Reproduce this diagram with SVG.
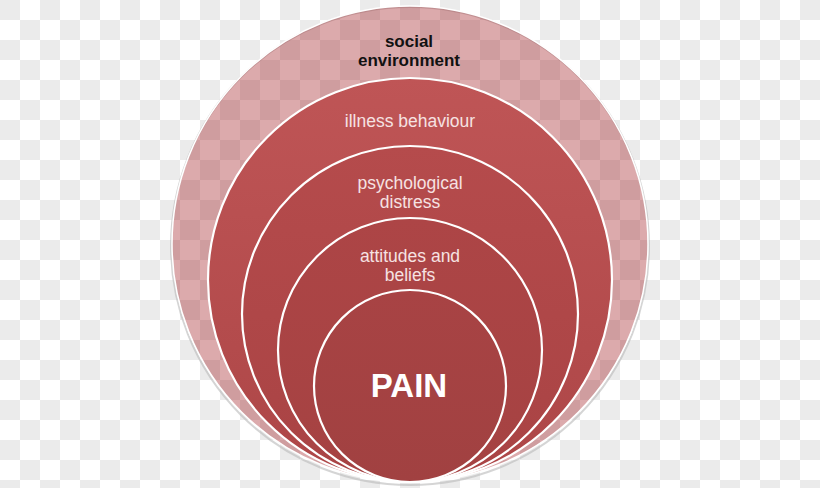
<svg xmlns="http://www.w3.org/2000/svg" width="820" height="488" viewBox="0 0 820 488">
  <defs>
    <pattern id="checker" x="0" y="0" width="40" height="40" patternUnits="userSpaceOnUse">
      <rect width="40" height="40" fill="#ffffff"/>
      <rect x="0" y="0" width="20" height="20" fill="#ebebeb"/>
      <rect x="20" y="20" width="20" height="20" fill="#ebebeb"/>
    </pattern>
    <linearGradient id="g2" x1="0" y1="0" x2="0" y2="1">
      <stop offset="0" stop-color="#bf5556"/>
      <stop offset="1" stop-color="#ad4647"/>
    </linearGradient>
    <linearGradient id="g3" x1="0" y1="0" x2="0" y2="1">
      <stop offset="0" stop-color="#b54b4c"/>
      <stop offset="1" stop-color="#a94344"/>
    </linearGradient>
    <linearGradient id="g4" x1="0" y1="0" x2="0" y2="1">
      <stop offset="0" stop-color="#ad4546"/>
      <stop offset="1" stop-color="#a54242"/>
    </linearGradient>
    <linearGradient id="g5" x1="0" y1="0" x2="0" y2="1">
      <stop offset="0" stop-color="#a84344"/>
      <stop offset="1" stop-color="#a14141"/>
    </linearGradient>
  </defs>
  <style>
    .ring { stroke: #ffffff; stroke-width: 2.2; }
    .lbl { font-family: "Liberation Sans", Arial, sans-serif; font-size: 17.5px; fill: #f6e2e2; text-anchor: middle; }
    .dark { font-family: "Liberation Sans", Arial, sans-serif; font-size: 17px; font-weight: bold; fill: #111111; text-anchor: middle; }
    .big { font-family: "Liberation Sans", Arial, sans-serif; font-size: 33px; font-weight: bold; fill: #ffffff; text-anchor: middle; }
  </style>
  <rect width="820" height="488" fill="url(#checker)"/>

  <g id="social-environment">
    <circle cx="410" cy="246" r="239" fill="none" stroke="#b9b9b9" stroke-width="2" opacity="0.6"/>
    <circle cx="410" cy="244" r="238" fill="#a0191f" fill-opacity="0.37" stroke="#ffffff" stroke-width="1.5"/>
    <text class="dark" x="409" y="47">social</text>
    <text class="dark" x="409" y="66">environment</text>
  </g>

  <g id="illness-behaviour">
    <circle class="ring" cx="410" cy="280" r="202" fill="url(#g2)"/>
    <text class="lbl" x="410" y="127">illness behaviour</text>
  </g>

  <g id="psychological-distress">
    <circle class="ring" cx="410" cy="314" r="168" fill="url(#g3)"/>
    <text class="lbl" x="410" y="189">psychological</text>
    <text class="lbl" x="410" y="208">distress</text>
  </g>

  <g id="attitudes-and-beliefs">
    <circle class="ring" cx="410" cy="350" r="132" fill="url(#g4)"/>
    <text class="lbl" x="410" y="262">attitudes and</text>
    <text class="lbl" x="410" y="281">beliefs</text>
  </g>

  <g id="pain">
    <circle class="ring" cx="410" cy="386" r="96" fill="url(#g5)"/>
    <text class="big" x="409" y="397">PAIN</text>
  </g>

  <g id="connectors"></g>
</svg>
